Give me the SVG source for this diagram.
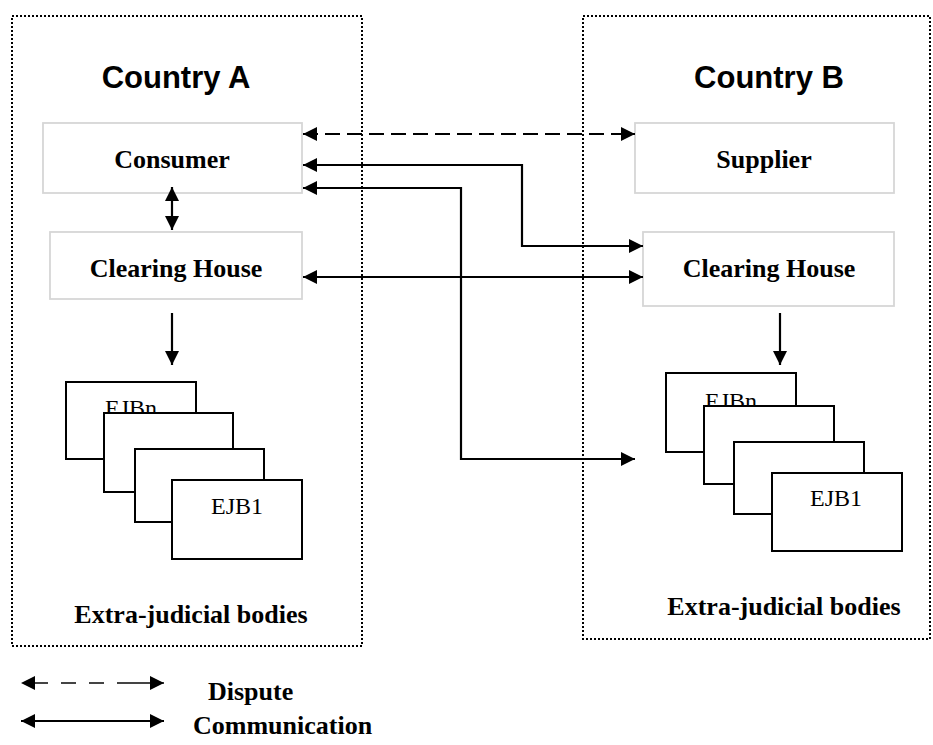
<svg xmlns="http://www.w3.org/2000/svg" width="933" height="745" viewBox="0 0 933 745">
<defs>
<marker id="ah" markerUnits="userSpaceOnUse" markerWidth="15" markerHeight="14" refX="14" refY="7" orient="auto-start-reverse"><path d="M0,0 L14,7 L0,14 z" fill="#000"/></marker>
<style>
.region{fill:none;stroke:#000;stroke-width:2;stroke-dasharray:2 2}
.node{fill:#fff;stroke:#d6d6d6;stroke-width:1.8}
.ejb{fill:#fff;stroke:#000;stroke-width:2}
.title{font-family:"Liberation Sans",Arial,sans-serif;font-weight:bold;font-size:31px;text-anchor:middle}
.lbl{font-family:"Liberation Serif","Times New Roman",serif;font-weight:bold;font-size:26px;text-anchor:middle}
.ejbt{font-family:"Liberation Serif","Times New Roman",serif;font-size:24px;text-anchor:middle}
.leg{font-family:"Liberation Serif","Times New Roman",serif;font-weight:bold;font-size:26px}
.conn{fill:none;stroke:#000;stroke-width:2.2}
.dash{stroke-dasharray:15 7}
</style>
</defs>
<rect width="933" height="745" fill="#fff"/>
<g id="countryA">
<rect class="region" x="12" y="16" width="350" height="630"/>
<text class="title" x="176" y="88">Country A</text>
</g>
<g id="countryB">
<rect class="region" x="583" y="16" width="347" height="623"/>
<text class="title" x="769" y="88">Country B</text>
</g>
<g id="consumer">
<rect class="node" x="43" y="123" width="259" height="70"/>
<text class="lbl" x="172" y="168">Consumer</text>
</g>
<g id="clearingA">
<rect class="node" x="50" y="232" width="252" height="67"/>
<text class="lbl" x="176" y="277">Clearing House</text>
</g>
<g id="supplier">
<rect class="node" x="635" y="123" width="259" height="70"/>
<text class="lbl" x="764" y="168">Supplier</text>
</g>
<g id="clearingB">
<rect class="node" x="643" y="232" width="251" height="74"/>
<text class="lbl" x="769" y="277">Clearing House</text>
</g>
<g id="ejbA">
<rect class="ejb" x="66" y="382" width="130" height="77"/>
<text class="ejbt" x="131" y="416">EJBn</text>
<rect class="ejb" x="104" y="413" width="129" height="79"/>
<rect class="ejb" x="135" y="449" width="129" height="73"/>
<rect class="ejb" x="172" y="480" width="130" height="79"/>
<text class="ejbt" x="237" y="514">EJB1</text>
<text class="lbl" x="191" y="623">Extra-judicial bodies</text>
</g>
<g id="ejbB">
<rect class="ejb" x="666" y="373" width="130" height="79"/>
<text class="ejbt" x="731" y="409">EJBn</text>
<rect class="ejb" x="704" y="406" width="130" height="78"/>
<rect class="ejb" x="734" y="442" width="130" height="72"/>
<rect class="ejb" x="772" y="473" width="130" height="78"/>
<text class="ejbt" x="836" y="506">EJB1</text>
<text class="lbl" x="784" y="615">Extra-judicial bodies</text>
</g>
<g id="connectors">
<path class="conn dash" d="M303,134 H635" marker-start="url(#ah)" marker-end="url(#ah)"/>
<path class="conn" d="M303,165 H522 V246 H643" marker-start="url(#ah)" marker-end="url(#ah)"/>
<path class="conn" d="M303,188 H461 V459 H635" marker-start="url(#ah)" marker-end="url(#ah)"/>
<path class="conn" d="M303,277 H643" marker-start="url(#ah)" marker-end="url(#ah)"/>
<path class="conn" d="M172,187 V230" marker-start="url(#ah)" marker-end="url(#ah)"/>
<path class="conn" d="M172,313 V365" marker-end="url(#ah)"/>
<path class="conn" d="M780,313 V365" marker-end="url(#ah)"/>
</g>
<g id="legend">
<path class="conn" d="M21,683 H164" stroke-dasharray="0 12 15 13 15 13 15 13 40" marker-start="url(#ah)" marker-end="url(#ah)" style="stroke:#444"/>
<text class="leg" x="208" y="700">Dispute</text>
<path class="conn" d="M21,721 H164" marker-start="url(#ah)" marker-end="url(#ah)"/>
<text class="leg" x="193" y="734">Communication</text>
</g>
</svg>
